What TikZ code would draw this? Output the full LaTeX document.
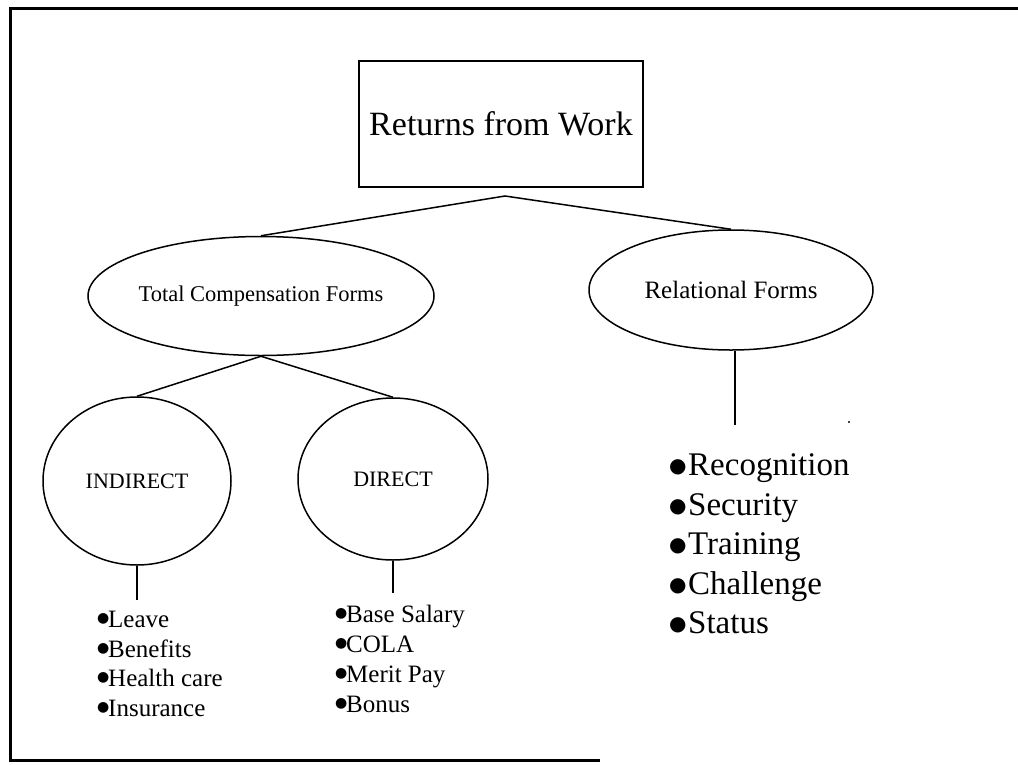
\documentclass[tikz,border=0pt]{standalone}
\usepackage{fontspec}
\setmainfont{Liberation Serif}
\newfontfamily\symfont{DejaVu Sans}
\usetikzlibrary{shapes.geometric}
\newcommand{\bulL}{\makebox[11pt][l]{\raisebox{4.8pt}{\symfont\fontsize{14}{14}\selectfont ●}}}
\newcommand{\bulR}{\makebox[19pt][l]{\raisebox{3pt}{\symfont\fontsize{20}{20}\selectfont ●}}}
\begin{document}
\begin{tikzpicture}[x=1pt,y=-1pt,
  line/.style={line width=1.5pt, black},
  oval/.style={draw, line width=1.5pt, ellipse, inner sep=0pt, align=center},
  itemL/.style={anchor=base west, inner sep=0pt, font=\fontsize{25}{25}\selectfont},
  itemR/.style={anchor=base west, inner sep=0pt, font=\fontsize{33}{33}\selectfont}]
\useasboundingbox (0,0) rectangle (1018,764);
% frame
\draw[line width=3pt] (1018,8) -- (10,8) -- (10,760) -- (600,760);
% root
\node[draw, line width=1.5pt, minimum width=284pt, minimum height=126pt, inner sep=0pt,
      font=\fontsize{34}{34}\selectfont] (root) at (501,124) {Returns from Work};
\coordinate (apex) at (505,196);
% level 1
\node[oval, minimum width=282pt, minimum height=119pt, font=\fontsize{22.5}{22.5}\selectfont]
  (tcf) at (261,296) {Total Compensation Forms};
\node[oval, minimum width=284pt, minimum height=120pt, font=\fontsize{25}{25}\selectfont]
  (rel) at (731,290) {Relational Forms};
% level 2
\node[oval, minimum width=188pt, minimum height=168pt, font=\fontsize{22}{22}\selectfont]
  (ind) at (137,481) {INDIRECT};
\node[oval, minimum width=190pt, minimum height=162pt, font=\fontsize{22}{22}\selectfont]
  (dir) at (393,479) {DIRECT};
% connectors
\draw[line] (tcf.north) -- (apex) -- (rel.north);
\draw[line] (ind.north) -- (tcf.south) -- (dir.north);
\coordinate (relend) at (735,425);
\coordinate (indend) at (137,600);
\coordinate (dirend) at (393,593);
\draw[line, line width=1.1pt] (rel.south -| relend) -- (relend);
\draw[line, line width=1.1pt] (ind.south) -- (indend);
\draw[line, line width=1.1pt] (dir.south) -- (dirend);
% lists
\node[itemL] (l1) at (97,627) {\bulL Leave};
\node[itemL] (l2) at (97,657) {\bulL Benefits};
\node[itemL] (l3) at (97,686) {\bulL Health care};
\node[itemL] (l4) at (97,716) {\bulL Insurance};
\node[itemL] (d1) at (335,622) {\bulL Base Salary};
\node[itemL] (d2) at (335,652) {\bulL COLA};
\node[itemL] (d3) at (335,682) {\bulL Merit Pay};
\node[itemL] (d4) at (335,712) {\bulL Bonus};
\node[itemR] (r1) at (669,475) {\bulR Recognition};
\node[itemR] (r2) at (669,515) {\bulR Security};
\node[itemR] (r3) at (669,554) {\bulR Training};
\node[itemR] (r4) at (669,594) {\bulR Challenge};
\node[itemR] (r5) at (669,633) {\bulR Status};
\fill (849,422) circle (1.2pt);
\end{tikzpicture}
\end{document}
